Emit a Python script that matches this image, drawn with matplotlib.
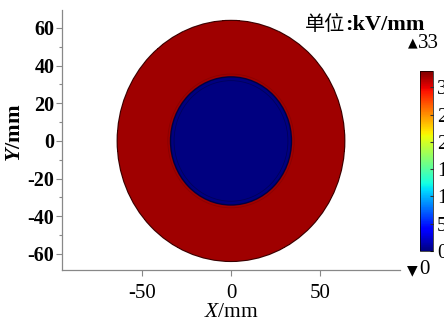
import numpy as np
import matplotlib
matplotlib.use("Agg")
import matplotlib.pyplot as plt
from matplotlib.patches import Circle

plt.rcParams['font.family'] = ['Liberation Serif', 'Noto Sans CJK SC', 'DejaVu Sans']
plt.rcParams['axes.unicode_minus'] = False
plt.rcParams['mathtext.fontset'] = 'custom'
plt.rcParams['mathtext.rm'] = 'Liberation Serif'
plt.rcParams['mathtext.it'] = 'Liberation Serif:italic'
plt.rcParams['mathtext.bf'] = 'Liberation Serif:bold'
plt.rcParams['mathtext.bfit'] = 'Liberation Serif:italic:bold'

# cable cross-section: conductor and insulation radii (mm), field in each (kV/mm)
radii = [34, 64]
field_values = [0.0, 32.0]
field_min, field_max = 0, 33
cbar_ticks = [0, 5, 10, 15, 20, 25, 30]
x_ticks = [-50, 0, 50]
y_ticks = [-60, -40, -20, 0, 20, 40, 60]

fig = plt.figure(figsize=(4.44, 3.22), dpi=100)
ax = fig.add_axes([0.1396, 0.1615, 0.7613, 0.8075])

xs = np.linspace(-95, 95, 700)
ys = np.linspace(-70, 70, 520)
X, Y = np.meshgrid(xs, ys)
R = np.hypot(X, Y)
E = np.where(R < radii[0], field_values[0],
             np.where(R <= radii[1], field_values[1], np.nan))
mesh = ax.pcolormesh(X, Y, E, cmap='jet', vmin=field_min, vmax=field_max,
                     shading='auto', rasterized=True)

# mesh boundary lines
ax.add_patch(Circle((0, 0), radii[1], fill=False, ec='#3a0000', lw=0.8))
ax.add_patch(Circle((0, 0), radii[0], fill=False, ec='#000040', lw=1.0))
ax.add_patch(Circle((0, 0), radii[0] - 2, fill=False, ec='#00005a', lw=0.6))
ax.add_patch(Circle((0, 0), radii[0] + 1.5, fill=False, ec='#8a0000', lw=0.6))

ax.set_xlim(-95, 95)
ax.set_ylim(-68.5, 69.5)
ax.set_xticks(x_ticks)
ax.set_yticks(y_ticks)
ax.set_yticks(np.arange(-60, 61, 10), minor=True)
for s in ['top', 'right']:
    ax.spines[s].set_visible(False)
for s in ['left', 'bottom']:
    ax.spines[s].set_color('#888888')
    ax.spines[s].set_linewidth(0.9)
ax.tick_params(axis='both', which='major', length=4, width=0.8, color='#888888')
ax.tick_params(axis='y', which='minor', length=2.5, width=0.8, color='#888888')
ax.tick_params(axis='x', labelsize=15, pad=6)
ax.tick_params(axis='y', labelsize=14.5, pad=1.5)
for lbl in ax.get_yticklabels():
    lbl.set_fontweight('bold')

ax.set_xlabel(r'$\mathit{X}$/mm', fontsize=15.5)
ax.set_ylabel(r'$\mathbfit{Y}$/mm', fontsize=16, fontweight='bold')
ax.xaxis.set_label_coords(0.5, -0.128)
ax.yaxis.set_label_coords(-0.109, 0.527)

# colorbar
cax = fig.add_axes([0.946, 0.2205, 0.0293, 0.559])
cb = fig.colorbar(mesh, cax=cax, ticks=cbar_ticks)
cb.outline.set_linewidth(0.5)
cax.tick_params(length=2.5, width=0.8, direction='in', color='#333333',
                labelsize=14.5, pad=3)

# unit label: CJK part followed by the bold serif part
unit_txt = fig.text(0.957, 0.908, ':kV/mm', fontsize=16, fontweight='bold',
                    ha='right', va='baseline', family='Liberation Serif')
fig.canvas.draw()
bb = unit_txt.get_window_extent()
fig.text(bb.x0 / fig.bbox.width, 0.908, '单位', fontsize=14.5, ha='right',
         va='baseline', family='Noto Sans CJK SC')

# colour range limits
fig.text(0.919, 0.866, '\u25b2', fontsize=9, ha='left', va='center',
         family='DejaVu Sans')
fig.text(0.941, 0.866, str(field_max), fontsize=15, ha='left', va='center')
fig.text(0.917, 0.162, '\u25bc', fontsize=10, ha='left', va='center',
         family='DejaVu Sans')
fig.text(0.944, 0.162, str(field_min), fontsize=15, ha='left', va='center')

fig.savefig('out.png', dpi=100)
